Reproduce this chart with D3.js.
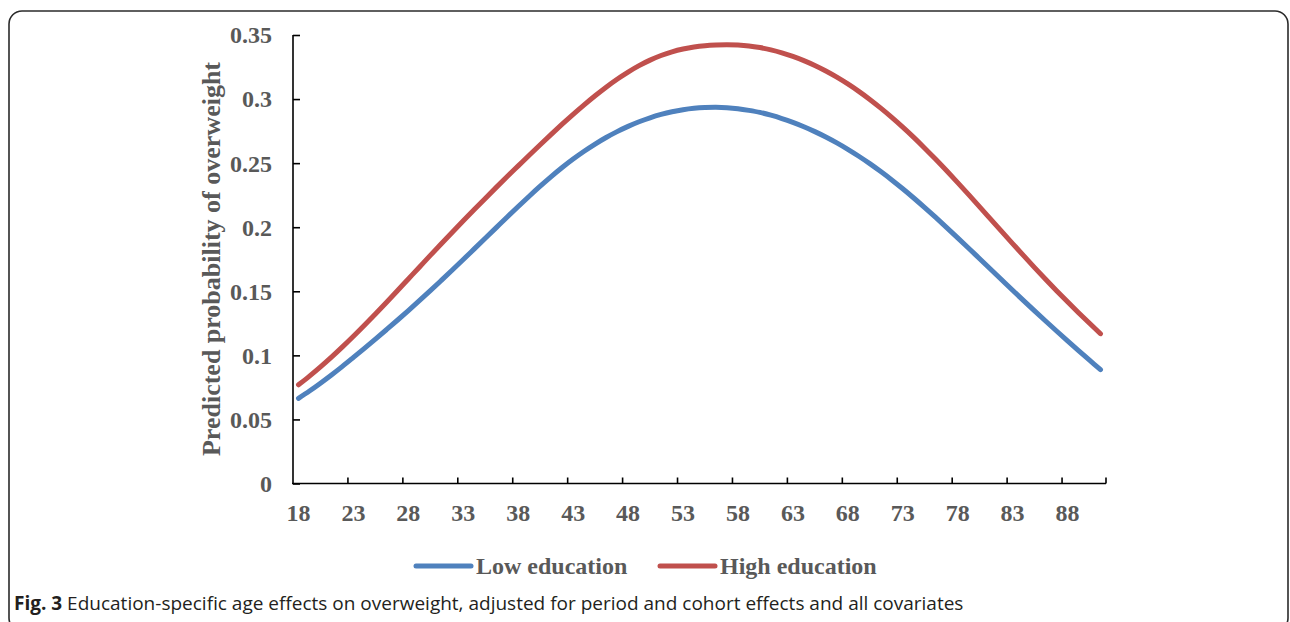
<!DOCTYPE html>
<html>
<head>
<meta charset="utf-8">
<script src="https://cdn.jsdelivr.net/npm/d3@7"></script>
<style>
  body { margin: 0; background: #fff; }
  .tick-lab { font-family: "Liberation Serif", "Times New Roman", serif; font-weight: bold; font-size: 24px; fill: #595959; }
  .caption { font-family: "Open Sans", sans-serif; font-size: 19px; fill: #231f20; }
</style>
</head>
<body>
<script>
// ages 18..91, one category per year
var ages = d3.range(18, 92);

var lowEdu = [
  0.0665, 0.0722, 0.0783, 0.0847, 0.0914, 0.0984, 0.1055, 0.1127, 0.1200, 0.1274,   // 18-27
  0.1350, 0.1427, 0.1505, 0.1585, 0.1666, 0.1748, 0.1831, 0.1914, 0.1997, 0.2080,   // 28-37
  0.2162, 0.2242, 0.2320, 0.2395, 0.2466, 0.2532, 0.2593, 0.2649, 0.2700, 0.2746,   // 38-47
  0.2787, 0.2823, 0.2854, 0.2880, 0.2901, 0.2917, 0.2928, 0.2934, 0.2936, 0.2933,   // 48-57
  0.2925, 0.2912, 0.2896, 0.2874, 0.2848, 0.2818, 0.2784, 0.2746, 0.2704, 0.2658,   // 58-67
  0.2608, 0.2554, 0.2496, 0.2434, 0.2369, 0.2300, 0.2228, 0.2153, 0.2076, 0.1997,   // 68-77
  0.1917, 0.1836, 0.1754, 0.1672, 0.1590, 0.1508, 0.1427, 0.1347, 0.1268, 0.1190,   // 78-87
  0.1113, 0.1037, 0.0962, 0.0888                                                    // 88-91
];

var highEdu = [
  0.0770, 0.0838, 0.0910, 0.0986, 0.1066, 0.1149, 0.1235, 0.1323, 0.1413, 0.1504,   // 18-27
  0.1596, 0.1688, 0.1780, 0.1871, 0.1961, 0.2050, 0.2138, 0.2225, 0.2311, 0.2396,   // 28-37
  0.2479, 0.2562, 0.2644, 0.2725, 0.2804, 0.2881, 0.2955, 0.3026, 0.3093, 0.3155,   // 38-47
  0.3211, 0.3261, 0.3304, 0.3340, 0.3369, 0.3391, 0.3407, 0.3417, 0.3422, 0.3424,   // 48-57
  0.3422, 0.3415, 0.3402, 0.3384, 0.3361, 0.3333, 0.3300, 0.3262, 0.3219, 0.3171,   // 58-67
  0.3118, 0.3060, 0.2997, 0.2929, 0.2857, 0.2781, 0.2701, 0.2617, 0.2530, 0.2440,   // 68-77
  0.2348, 0.2254, 0.2159, 0.2063, 0.1967, 0.1872, 0.1778, 0.1685, 0.1594, 0.1505,   // 78-87
  0.1418, 0.1333, 0.1250, 0.1169                                                    // 88-91
];

var yTicks = [0, 0.05, 0.1, 0.15, 0.2, 0.25, 0.3, 0.35];
var xLabelAges = [18, 23, 28, 33, 38, 43, 48, 53, 58, 63, 68, 73, 78, 83, 88];
var seriesNames = ["Low education", "High education"];
var seriesColors = ["#4f81bd", "#c0504d"];

var W = 1290, H = 622;
var plot = { left: 293, right: 1106, top: 35, bottom: 483.5 };

var svg = d3.select("body").append("svg")
    .attr("width", W)
    .attr("height", H);

// frame round the figure
svg.append("rect")
    .attr("x", 9).attr("y", 11)
    .attr("width", 1279).attr("height", 620)
    .attr("rx", 13)
    .attr("fill", "none")
    .attr("stroke", "#2b2b2b")
    .attr("stroke-width", 1.6);

var x = d3.scaleBand().domain(ages).range([plot.left, plot.right]).padding(0);
var xc = function(a) { return x(a) + x.bandwidth() / 2; };
var y = d3.scaleLinear().domain([0, 0.35]).range([plot.bottom, plot.top]);

// y axis: inside ticks, labels on the left
var yAxis = svg.append("g")
    .attr("transform", "translate(" + plot.left + ",0)")
    .call(d3.axisRight(y).tickValues(yTicks).tickSize(7).tickFormat(""));
yAxis.select(".domain").attr("d", "M0," + plot.top + "V" + plot.bottom);
yAxis.selectAll("line, path").attr("stroke", "#000").attr("stroke-width", 1.6);

svg.selectAll(".ylab")
    .data(yTicks)
    .enter().append("text")
    .attr("class", "tick-lab")
    .attr("x", 272)
    .attr("y", function(d) { return y(d); })
    .attr("dy", "0.35em")
    .attr("text-anchor", "end")
    .text(function(d) { return d === 0 ? "0" : String(d); });

// x axis: tick marks on category boundaries every 5 years
var bounds = xLabelAges.slice(1).map(function(a) { return x(a); }).concat([plot.right]);
var xg = svg.append("g").attr("class", "x axis");
xg.append("line")
    .attr("x1", plot.left - 1).attr("x2", plot.right)
    .attr("y1", plot.bottom).attr("y2", plot.bottom)
    .attr("stroke", "#000").attr("stroke-width", 1.6);
xg.selectAll(".xt")
    .data(bounds)
    .enter().append("line")
    .attr("x1", function(d) { return d; }).attr("x2", function(d) { return d; })
    .attr("y1", plot.bottom).attr("y2", plot.bottom - 6)
    .attr("stroke", "#000").attr("stroke-width", 1.6);

svg.selectAll(".xlab")
    .data(xLabelAges)
    .enter().append("text")
    .attr("class", "tick-lab")
    .attr("x", function(d) { return xc(d); })
    .attr("y", 521)
    .attr("text-anchor", "middle")
    .text(function(d) { return d; });

// y axis title
svg.append("text")
    .attr("class", "tick-lab")
    .attr("transform", "translate(220," + 259 + ") rotate(-90)")
    .attr("text-anchor", "middle")
    .style("font-size", "26px")
    .text("Predicted probability of overweight");

// lines
var line = d3.line()
    .x(function(d) { return xc(d.age); })
    .y(function(d) { return y(d.v); })
    .curve(d3.curveCatmullRom);

[lowEdu, highEdu].forEach(function(vals, i) {
    var pts = ages.map(function(a, j) { return { age: a, v: vals[j] }; });
    svg.append("path")
        .attr("d", line(pts))
        .attr("fill", "none")
        .attr("stroke", seriesColors[i])
        .attr("stroke-width", 5)
        .attr("stroke-linecap", "round")
        .attr("stroke-linejoin", "round");
});

// legend
var legendX = [416, 660];
seriesNames.forEach(function(name, i) {
    svg.append("line")
        .attr("x1", legendX[i]).attr("x2", legendX[i] + 55)
        .attr("y1", 566).attr("y2", 566)
        .attr("stroke", seriesColors[i])
        .attr("stroke-width", 5)
        .attr("stroke-linecap", "round");
    svg.append("text")
        .attr("class", "tick-lab")
        .attr("x", legendX[i] + 60)
        .attr("y", 574)
        .text(name);
});

// caption
var cap = svg.append("text")
    .attr("class", "caption")
    .attr("x", 14)
    .attr("y", 610);
cap.append("tspan").style("font-weight", "bold").text("Fig. 3");
cap.append("tspan").text(" Education-specific age effects on overweight, adjusted for period and cohort effects and all covariates");
</script>
</body>
</html>
